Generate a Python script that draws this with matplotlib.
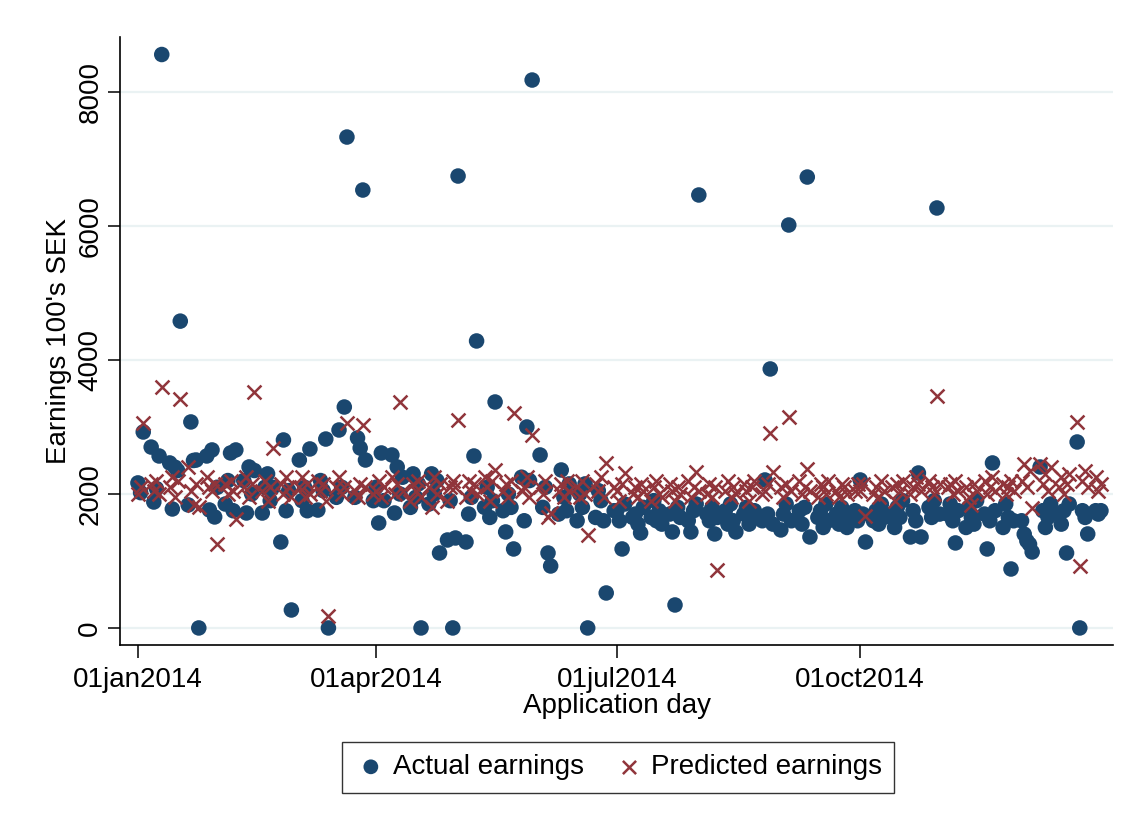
import numpy as np
import pandas as pd
import matplotlib
matplotlib.use("Agg")
import matplotlib.pyplot as plt

plt.rcParams['font.family'] = ['Liberation Sans', 'DejaVu Sans']

# application days: weekdays of 2014
days = pd.bdate_range("2014-01-01", "2014-12-31")

# actual earnings (100's SEK), month by month
act_jan = [2165, 2020, 2925, 2700, 1880, 2080, 2567, 8560, 2463, 1776, 2400, 2350, 4580,
           1836, 3075, 2500, 2507, 0, 2567, 1761, 2657, 1657, 2100]
act_feb = [1850, 2200, 2612, 1750, 2657, 2200, 1716, 2403, 2000, 2350,
           1716, 2100, 2300, 1900, 2100, 1283, 2806, 1750, 2050, 268]
act_mar = [2507, 1900, 2100, 1750, 2672, 1760, 2200, 2050, 2820, 0, 1950,
           2955, 2100, 3298, 7328, 1950, 2836, 2686, 6537, 2507, 1900]
act_apr = [2100, 1567, 2612, 1900, 2582, 1716, 2403, 2000, 2250, 1800, 2300,
           1950, 2150, 0, 1850, 2300, 2000, 2200, 1119, 1313, 1900, 0]
act_may = [1343, 6746, 1283, 1700, 1950, 2567, 4284, 1800, 2100, 1650, 1900,
           3373, 1750, 1433, 2000, 1800, 1179, 2250, 1600, 3000, 2200, 8179]
act_jun = [2582, 1800, 2100, 1119, 925, 1700, 2358, 1950, 1750, 2150, 1600,
           2000, 1800, 2150, 0, 1650, 2050, 1900, 1600, 522, 1750]
act_jul = [1750, 1600, 1179, 1850, 1650, 1700, 1550, 1418, 1800, 1650, 1900, 1600,
           1750, 1550, 1700, 1433, 343, 1800, 1650, 1600, 1433, 1750, 1850]
act_aug = [6463, 1700, 1600, 1800, 1403, 1650, 1750, 1550, 1850, 1600, 1433,
           1700, 1800, 1550, 1650, 1750, 1600, 2209, 1700, 3866, 1550]
act_sep = [1463, 1700, 1850, 6015, 1600, 1750, 1550, 1800, 6731, 1358, 1650,
           1750, 1500, 1850, 1600, 1700, 1550, 1800, 1650, 1500, 1750, 1600]
act_oct = [2209, 1700, 1283, 1600, 1750, 1550, 1850, 1650, 1700, 1500, 1800, 1650,
           1900, 1358, 1750, 1600, 2313, 1358, 1800, 1650, 1900, 6269, 1700]
act_nov = [1700, 1850, 1600, 1269, 1750, 1500, 1800, 1650, 1550, 1900,
           1700, 1179, 1600, 2463, 1750, 1500, 1850, 1650, 880, 1600]
act_dec = [1600, 1400, 1300, 1250, 1134, 2403, 1750, 1500, 1650, 1850, 1700, 1550,
           1750, 1119, 1850, 2776, 0, 1750, 1650, 1403, 1750, 1700, 1750]

# predicted earnings (100's SEK)
pred_jan = [2000, 2100, 3060, 2150, 2050, 2200, 2000, 3597, 2100, 2250, 1950, 2200, 3418,
            2403, 2050, 1836, 2150, 1806, 2250, 2100, 2050, 2150, 1254]
pred_feb = [2150, 2000, 2200, 2050, 1627, 2100, 2250, 1950, 2150, 3522,
            2050, 2200, 1900, 2100, 2687, 2150, 2000, 2250, 2100, 1950]
pred_mar = [2100, 2250, 1950, 2150, 2000, 2200, 2050, 2150, 1900, 179, 2100,
            2250, 2000, 2100, 3060, 2050, 1950, 2150, 3030, 2100, 2000]
pred_apr = [2050, 2200, 1950, 2100, 2250, 2000, 2150, 3373, 2050, 1900, 2150,
            2050, 2200, 1950, 2100, 1800, 2250, 2000, 2150, 1900, 2100, 2200]
pred_may = [2100, 3104, 1950, 2200, 2050, 2150, 2000, 2250, 2100, 1900, 2200,
            2358, 2050, 2150, 1950, 2200, 3209, 2050, 2100, 2250, 1950, 2880]
pred_jun = [2100, 2000, 2200, 1657, 1716, 2050, 2150, 1950, 2200, 2050, 2100,
            1950, 2200, 2000, 1388, 2150, 2050, 2250, 1950, 2463, 2100]
pred_jul = [2050, 1900, 2150, 2313, 2000, 2100, 1950, 2150, 2050, 1900, 2100, 2200,
            2000, 1950, 2150, 2050, 1900, 2100, 2000, 2200, 1950, 2100, 2328]
pred_aug = [2050, 2000, 2150, 1950, 2100, 866, 2050, 2200, 1950, 2100, 2000,
            2150, 2050, 1900, 2100, 2200, 2000, 2050, 2150, 2910, 2328]
pred_sep = [2100, 1950, 2150, 3149, 2050, 2200, 2000, 2100, 2373, 2050, 1950,
            2150, 2100, 2000, 2200, 2050, 1950, 2150, 2100, 2000, 2050, 2150]
pred_oct = [2050, 2150, 1672, 2000, 2100, 1950, 2200, 2050, 2100, 1900, 2150, 2050,
            2200, 2000, 2100, 2250, 2150, 2050, 2200, 2100, 2000, 3463, 2150]
pred_nov = [2100, 2150, 2000, 2200, 2050, 2100, 1950, 1836, 2150, 2050,
            2200, 2000, 2100, 2250, 2050, 2150, 2000, 2100, 2200, 2050]
pred_dec = [2200, 2450, 2100, 2350, 1791, 2450, 2150, 2300, 2050, 2400, 2100, 2250,
            2000, 2150, 2300, 3075, 925, 2200, 2350, 2100, 2250, 2050, 2150]

actual = np.concatenate([act_jan, act_feb, act_mar, act_apr, act_may, act_jun,
                         act_jul, act_aug, act_sep, act_oct, act_nov, act_dec])
predicted = np.concatenate([pred_jan, pred_feb, pred_mar, pred_apr, pred_may, pred_jun,
                            pred_jul, pred_aug, pred_sep, pred_oct, pred_nov, pred_dec])

tick_dates = pd.to_datetime(["2014-01-01", "2014-04-01", "2014-07-01", "2014-10-01"])
tick_labels = ["01jan2014", "01apr2014", "01jul2014", "01oct2014"]
y_ticks = [0, 2000, 4000, 6000, 8000]

navy = "#1a476f"
maroon = "#90353b"
fs = 20

fig = plt.figure(figsize=(11.37, 8.32), dpi=100)
ax = fig.add_axes([0.1055, 0.2248, 0.8735, 0.7307])

ax.scatter(days, actual, s=125, color=navy, edgecolors="none", zorder=3,
           label="Actual earnings")
ax.scatter(days, predicted, s=100, marker="x", color=maroon, linewidths=1.8, zorder=4,
           label="Predicted earnings")

start = pd.Timestamp("2014-01-01")
ax.set_xlim(start - pd.Timedelta(days=6.8), start + pd.Timedelta(days=368.6))
ax.set_ylim(-254, 8821)

ax.set_xticks(tick_dates)
ax.set_xticklabels(tick_labels)
ax.set_yticks(y_ticks)
ax.set_yticklabels([str(v) for v in y_ticks], rotation=90, va="center")
ax.tick_params(axis="both", labelsize=fs, length=9, width=1.1, color="black")
ax.tick_params(axis="y", pad=3)
ax.tick_params(axis="x", pad=7)

for v in y_ticks:
    ax.axhline(v, color="#eaf2f3", lw=1.6, zorder=1)

for side in ["top", "right"]:
    ax.spines[side].set_visible(False)
for side in ["left", "bottom"]:
    ax.spines[side].set_linewidth(1.2)

ax.set_xlabel("Application day", fontsize=fs, labelpad=0)
ax.set_ylabel("Earnings 100's SEK", fontsize=fs, labelpad=4)

leg = fig.legend(loc="center", bbox_to_anchor=(0.5435, 0.078), ncol=2, fontsize=fs,
                 frameon=True, fancybox=False, edgecolor="black", handletextpad=0.2,
                 columnspacing=1.0, borderpad=0.45, markerscale=0.95, handlelength=1.2)
leg.get_frame().set_linewidth(1.0)

fig.savefig("out.png", dpi=100, facecolor="white")
